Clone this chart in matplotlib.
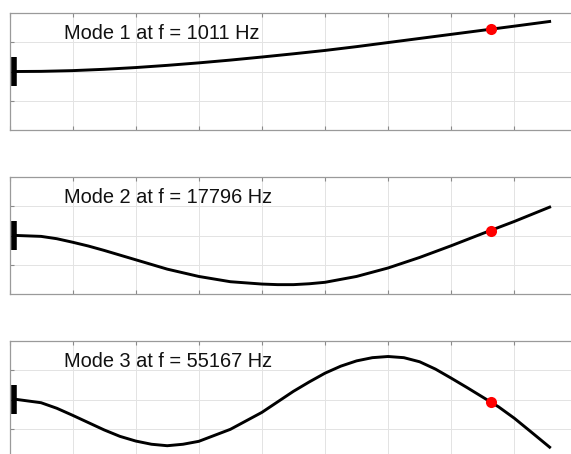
import matplotlib
matplotlib.use("Agg")
import matplotlib.pyplot as plt

plt.rcParams['font.family'] = ['Liberation Sans', 'DejaVu Sans']

# positions along the beam (grid units) and the mode shapes read there
x1 = [0.12, 0.5, 1.0, 1.5, 2.0, 2.5, 3.0, 3.5, 4.0, 4.5, 5.0, 5.5, 6.0,
      6.5, 7.0, 7.5, 8.0, 8.56]
mode1 = [0.0, 0.005, 0.03, 0.075, 0.135, 0.21, 0.295, 0.39, 0.495, 0.605,
         0.72, 0.85, 0.99, 1.13, 1.27, 1.41, 1.55, 1.71]

x2 = [0.12, 0.5, 0.75, 1.0, 1.25, 1.5, 2.0, 2.5, 3.0, 3.5, 4.0, 4.25, 4.5,
      4.75, 5.0, 5.5, 6.0, 6.5, 7.0, 7.5, 8.0, 8.56]
mode2 = [0.0, -0.03, -0.11, -0.23, -0.36, -0.51, -0.83, -1.15, -1.40, -1.58,
         -1.66, -1.68, -1.68, -1.65, -1.60, -1.40, -1.11, -0.75, -0.35, 0.07,
         0.48, 0.97]

x3 = [0.12, 0.5, 0.75, 1.0, 1.25, 1.5, 1.75, 2.0, 2.25, 2.5, 2.75, 3.0, 3.5,
      4.0, 4.5, 4.75, 5.0, 5.25, 5.5, 5.75, 6.0, 6.25, 6.5, 6.75, 7.0, 7.25,
      7.5, 7.75, 8.0, 8.25, 8.56]
mode3 = [0.0, -0.11, -0.30, -0.54, -0.79, -1.04, -1.26, -1.42, -1.53, -1.58,
         -1.53, -1.43, -1.02, -0.44, 0.28, 0.60, 0.90, 1.14, 1.32, 1.43, 1.47,
         1.43, 1.29, 1.04, 0.73, 0.41, 0.08, -0.25, -0.64, -1.08, -1.63]

xs = [x1, x2, x3]
shapes = [mode1, mode2, mode3]
freqs = [1011, 17796, 55167]

# sensor location and its deflection in each mode
sensor_x = 7.63
sensor_y = [1.45, 0.17, -0.09]

clamp_x = 0.075

W, H = 571, 454
fig = plt.figure(figsize=(W / 100, H / 100), dpi=100)

tops = [13, 177, 341]
ax_h = 117
ax_left = 9.5
ax_w = 63.1 * 9

for i in range(3):
    ax = fig.add_axes([ax_left / W, 1 - (tops[i] + ax_h) / H, ax_w / W, ax_h / H])
    ax.set_xlim(0, 9)
    ax.set_ylim(-2, 2)
    ax.set_xticks(range(10))
    ax.set_yticks([-1, 0, 1])
    ax.set_xticklabels([])
    ax.set_yticklabels([])
    ax.tick_params(direction='in', length=3, width=0.8, color='#8a8a8a',
                   top=True, right=True)
    ax.grid(True, color='#e3e3e3', linewidth=0.7)
    ax.set_axisbelow(True)
    for s in ax.spines.values():
        s.set_color('#9a9a9a')
        s.set_linewidth(0.9)

    ax.plot(xs[i], shapes[i], color='black', linewidth=2.1,
            solid_joinstyle='round', zorder=3)
    ax.plot([clamp_x, clamp_x], [-0.5, 0.5], color='black', linewidth=4,
            solid_capstyle='butt', zorder=4)
    ax.plot(sensor_x, sensor_y[i], 'o', color='#ff0000', markersize=8,
            markeredgewidth=0, zorder=5)
    ax.text(0.864, 1.1, 'Mode %d at f = %d Hz' % (i + 1, freqs[i]),
            fontsize=14.4, va='baseline', ha='left', color='#111111')

fig.savefig('out.png', dpi=100)
